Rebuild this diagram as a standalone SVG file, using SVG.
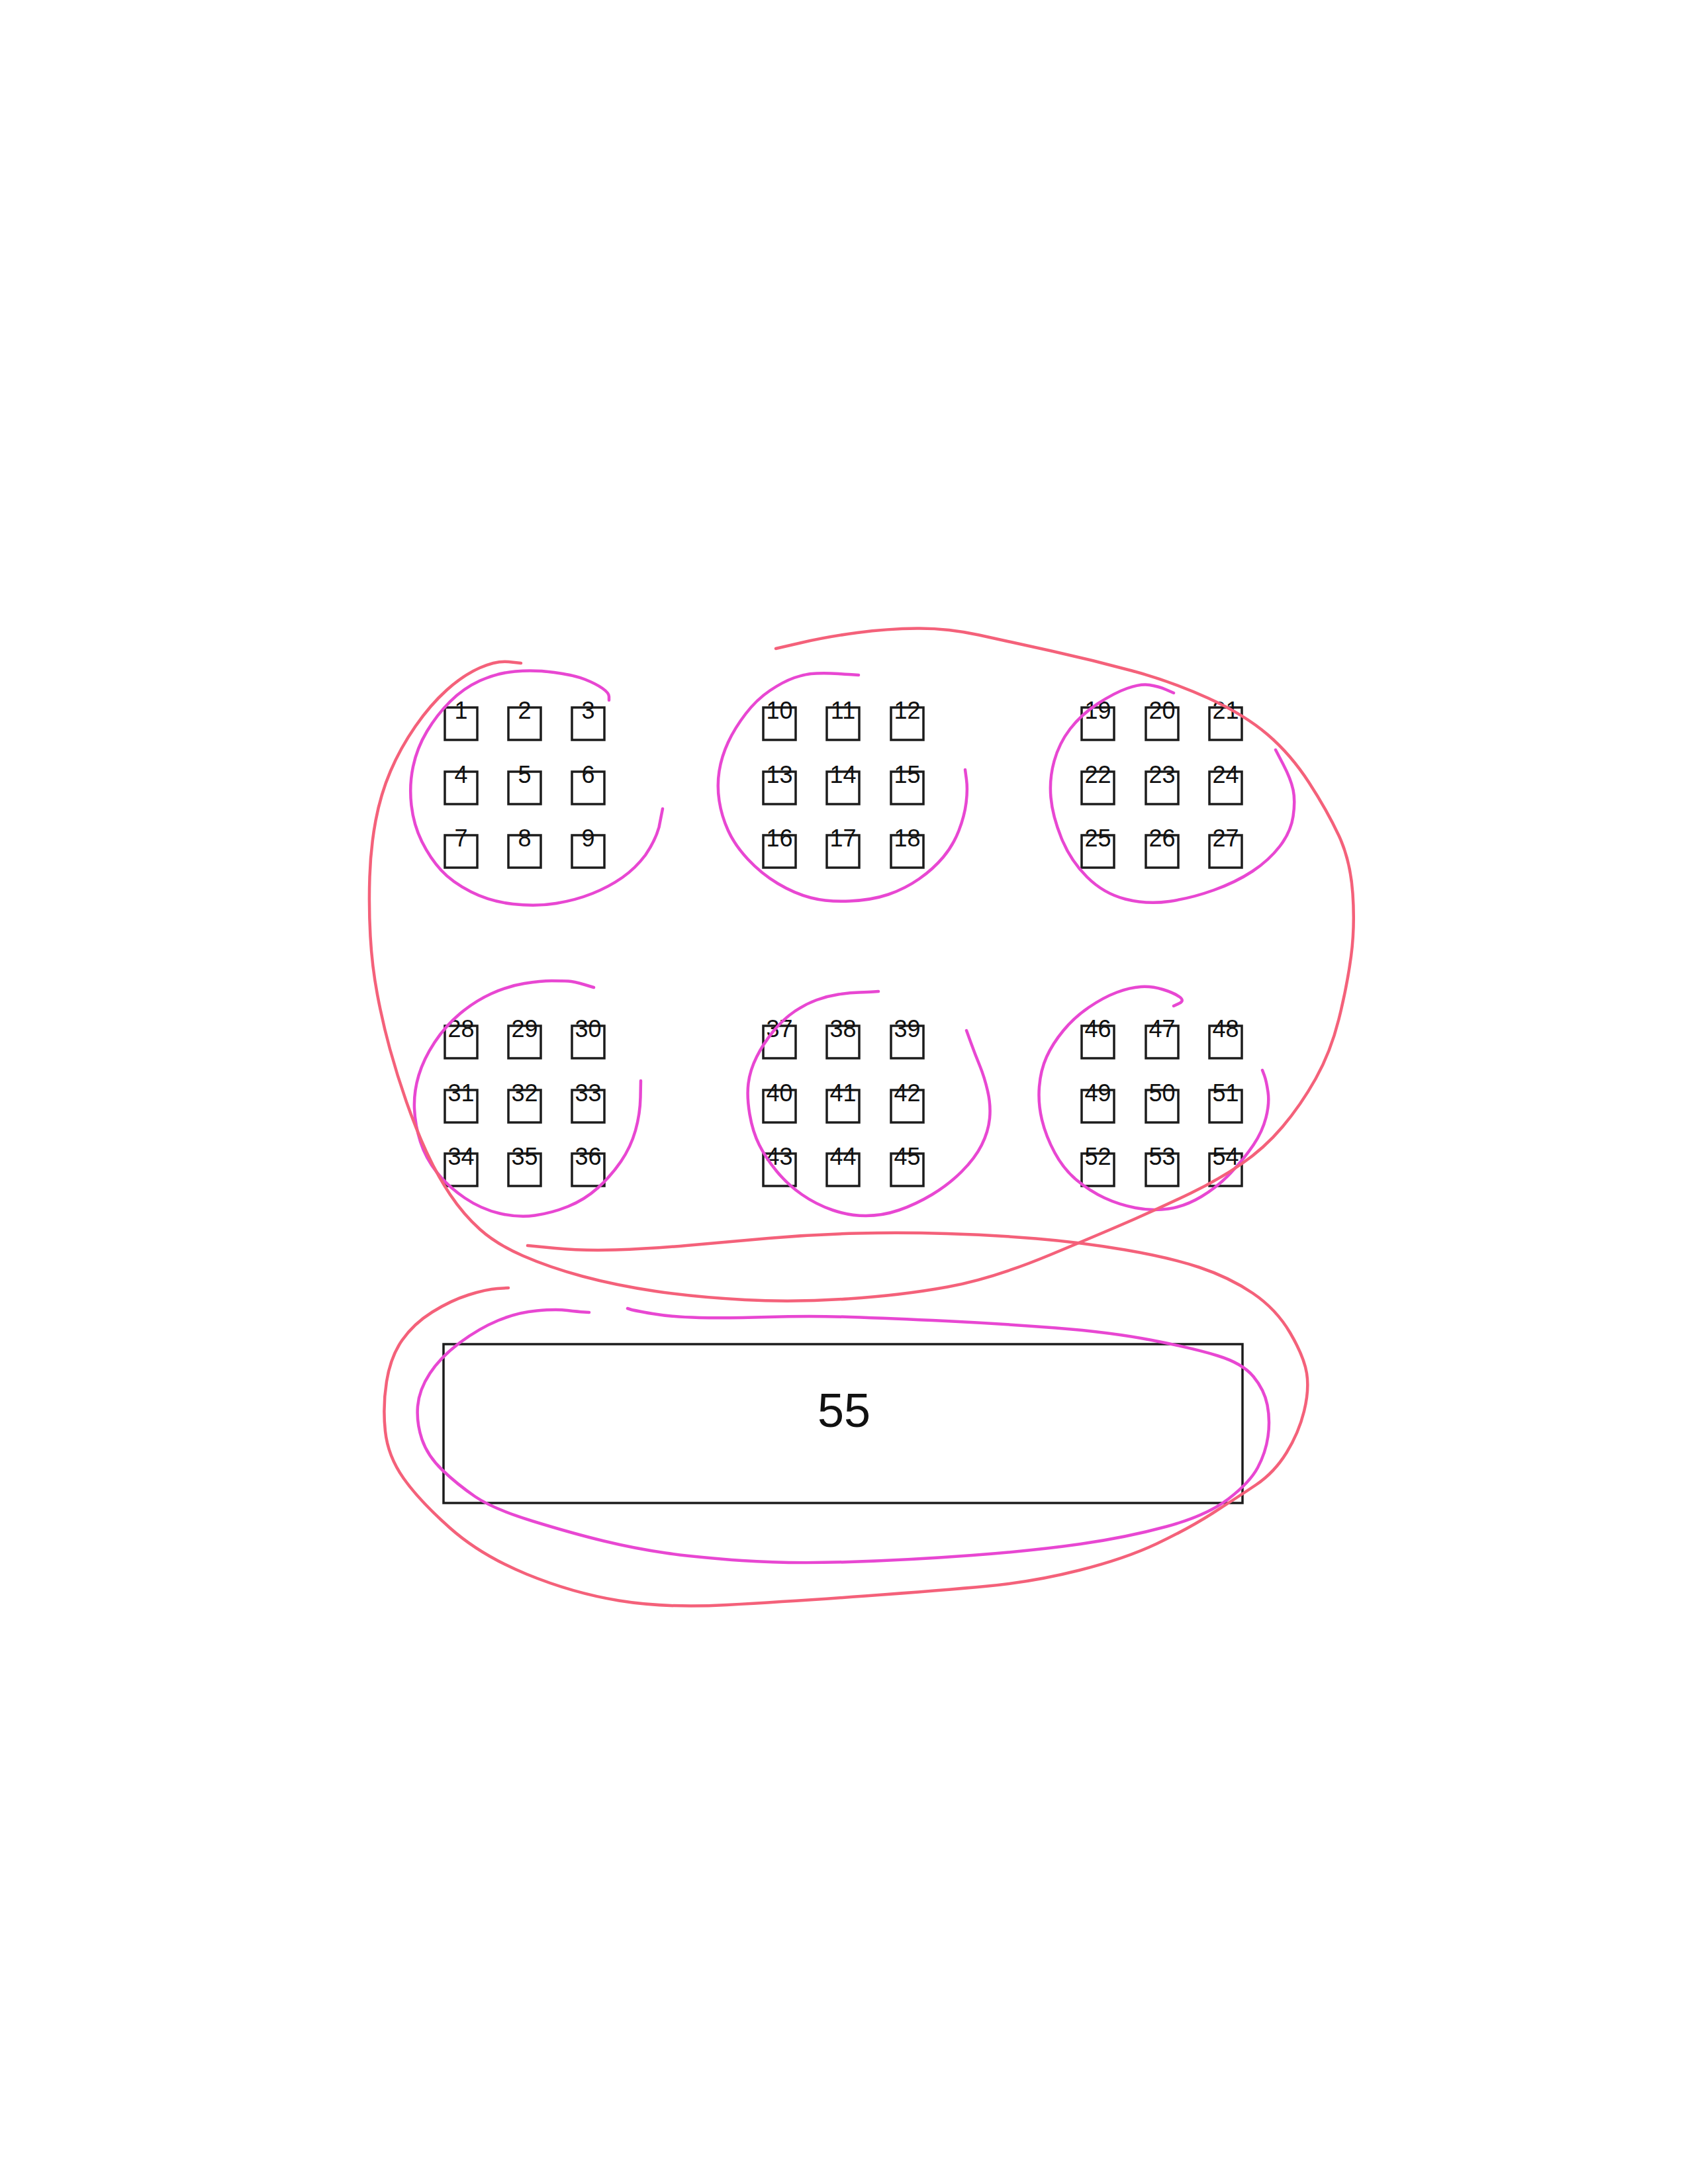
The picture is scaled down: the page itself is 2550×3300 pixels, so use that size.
<svg xmlns="http://www.w3.org/2000/svg" width="2550" height="3300" viewBox="0 0 2550 3300">
<style>
.bx{fill:none;stroke:#1c1c1c;stroke-width:3.5}
.lb{font-family:"Liberation Sans",Arial,sans-serif;font-size:36px;fill:#111;text-anchor:middle}
.big{font-family:"Liberation Sans",Arial,sans-serif;font-size:72px;fill:#111;text-anchor:middle}
.mg{fill:none;stroke:#e847d2;stroke-width:4.5;stroke-linecap:round;stroke-linejoin:round}
.rd{fill:none;stroke:#f4617a;stroke-width:4.5;stroke-linecap:round;stroke-linejoin:round}
</style>
<rect width="2550" height="3300" fill="#ffffff"/>
<g id="nodes">
<g id="n1"><rect class="bx" x="672" y="1069" width="49" height="49"/><text class="lb" x="696.5" y="1086">1</text></g>
<g id="n2"><rect class="bx" x="768" y="1069" width="49" height="49"/><text class="lb" x="792.5" y="1086">2</text></g>
<g id="n3"><rect class="bx" x="864" y="1069" width="49" height="49"/><text class="lb" x="888.5" y="1086">3</text></g>
<g id="n4"><rect class="bx" x="672" y="1166" width="49" height="49"/><text class="lb" x="696.5" y="1183">4</text></g>
<g id="n5"><rect class="bx" x="768" y="1166" width="49" height="49"/><text class="lb" x="792.5" y="1183">5</text></g>
<g id="n6"><rect class="bx" x="864" y="1166" width="49" height="49"/><text class="lb" x="888.5" y="1183">6</text></g>
<g id="n7"><rect class="bx" x="672" y="1262" width="49" height="49"/><text class="lb" x="696.5" y="1279">7</text></g>
<g id="n8"><rect class="bx" x="768" y="1262" width="49" height="49"/><text class="lb" x="792.5" y="1279">8</text></g>
<g id="n9"><rect class="bx" x="864" y="1262" width="49" height="49"/><text class="lb" x="888.5" y="1279">9</text></g>
<g id="n10"><rect class="bx" x="1153" y="1069" width="49" height="49"/><text class="lb" x="1177.5" y="1086">10</text></g>
<g id="n11"><rect class="bx" x="1249" y="1069" width="49" height="49"/><text class="lb" x="1273.5" y="1086">11</text></g>
<g id="n12"><rect class="bx" x="1346" y="1069" width="49" height="49"/><text class="lb" x="1370.5" y="1086">12</text></g>
<g id="n13"><rect class="bx" x="1153" y="1166" width="49" height="49"/><text class="lb" x="1177.5" y="1183">13</text></g>
<g id="n14"><rect class="bx" x="1249" y="1166" width="49" height="49"/><text class="lb" x="1273.5" y="1183">14</text></g>
<g id="n15"><rect class="bx" x="1346" y="1166" width="49" height="49"/><text class="lb" x="1370.5" y="1183">15</text></g>
<g id="n16"><rect class="bx" x="1153" y="1262" width="49" height="49"/><text class="lb" x="1177.5" y="1279">16</text></g>
<g id="n17"><rect class="bx" x="1249" y="1262" width="49" height="49"/><text class="lb" x="1273.5" y="1279">17</text></g>
<g id="n18"><rect class="bx" x="1346" y="1262" width="49" height="49"/><text class="lb" x="1370.5" y="1279">18</text></g>
<g id="n19"><rect class="bx" x="1634" y="1069" width="49" height="49"/><text class="lb" x="1658.5" y="1086">19</text></g>
<g id="n20"><rect class="bx" x="1731" y="1069" width="49" height="49"/><text class="lb" x="1755.5" y="1086">20</text></g>
<g id="n21"><rect class="bx" x="1827" y="1069" width="49" height="49"/><text class="lb" x="1851.5" y="1086">21</text></g>
<g id="n22"><rect class="bx" x="1634" y="1166" width="49" height="49"/><text class="lb" x="1658.5" y="1183">22</text></g>
<g id="n23"><rect class="bx" x="1731" y="1166" width="49" height="49"/><text class="lb" x="1755.5" y="1183">23</text></g>
<g id="n24"><rect class="bx" x="1827" y="1166" width="49" height="49"/><text class="lb" x="1851.5" y="1183">24</text></g>
<g id="n25"><rect class="bx" x="1634" y="1262" width="49" height="49"/><text class="lb" x="1658.5" y="1279">25</text></g>
<g id="n26"><rect class="bx" x="1731" y="1262" width="49" height="49"/><text class="lb" x="1755.5" y="1279">26</text></g>
<g id="n27"><rect class="bx" x="1827" y="1262" width="49" height="49"/><text class="lb" x="1851.5" y="1279">27</text></g>
<g id="n28"><rect class="bx" x="672" y="1550" width="49" height="49"/><text class="lb" x="696.5" y="1567">28</text></g>
<g id="n29"><rect class="bx" x="768" y="1550" width="49" height="49"/><text class="lb" x="792.5" y="1567">29</text></g>
<g id="n30"><rect class="bx" x="864" y="1550" width="49" height="49"/><text class="lb" x="888.5" y="1567">30</text></g>
<g id="n31"><rect class="bx" x="672" y="1647" width="49" height="49"/><text class="lb" x="696.5" y="1664">31</text></g>
<g id="n32"><rect class="bx" x="768" y="1647" width="49" height="49"/><text class="lb" x="792.5" y="1664">32</text></g>
<g id="n33"><rect class="bx" x="864" y="1647" width="49" height="49"/><text class="lb" x="888.5" y="1664">33</text></g>
<g id="n34"><rect class="bx" x="672" y="1743" width="49" height="49"/><text class="lb" x="696.5" y="1760">34</text></g>
<g id="n35"><rect class="bx" x="768" y="1743" width="49" height="49"/><text class="lb" x="792.5" y="1760">35</text></g>
<g id="n36"><rect class="bx" x="864" y="1743" width="49" height="49"/><text class="lb" x="888.5" y="1760">36</text></g>
<g id="n37"><rect class="bx" x="1153" y="1550" width="49" height="49"/><text class="lb" x="1177.5" y="1567">37</text></g>
<g id="n38"><rect class="bx" x="1249" y="1550" width="49" height="49"/><text class="lb" x="1273.5" y="1567">38</text></g>
<g id="n39"><rect class="bx" x="1346" y="1550" width="49" height="49"/><text class="lb" x="1370.5" y="1567">39</text></g>
<g id="n40"><rect class="bx" x="1153" y="1647" width="49" height="49"/><text class="lb" x="1177.5" y="1664">40</text></g>
<g id="n41"><rect class="bx" x="1249" y="1647" width="49" height="49"/><text class="lb" x="1273.5" y="1664">41</text></g>
<g id="n42"><rect class="bx" x="1346" y="1647" width="49" height="49"/><text class="lb" x="1370.5" y="1664">42</text></g>
<g id="n43"><rect class="bx" x="1153" y="1743" width="49" height="49"/><text class="lb" x="1177.5" y="1760">43</text></g>
<g id="n44"><rect class="bx" x="1249" y="1743" width="49" height="49"/><text class="lb" x="1273.5" y="1760">44</text></g>
<g id="n45"><rect class="bx" x="1346" y="1743" width="49" height="49"/><text class="lb" x="1370.5" y="1760">45</text></g>
<g id="n46"><rect class="bx" x="1634" y="1550" width="49" height="49"/><text class="lb" x="1658.5" y="1567">46</text></g>
<g id="n47"><rect class="bx" x="1731" y="1550" width="49" height="49"/><text class="lb" x="1755.5" y="1567">47</text></g>
<g id="n48"><rect class="bx" x="1827" y="1550" width="49" height="49"/><text class="lb" x="1851.5" y="1567">48</text></g>
<g id="n49"><rect class="bx" x="1634" y="1647" width="49" height="49"/><text class="lb" x="1658.5" y="1664">49</text></g>
<g id="n50"><rect class="bx" x="1731" y="1647" width="49" height="49"/><text class="lb" x="1755.5" y="1664">50</text></g>
<g id="n51"><rect class="bx" x="1827" y="1647" width="49" height="49"/><text class="lb" x="1851.5" y="1664">51</text></g>
<g id="n52"><rect class="bx" x="1634" y="1743" width="49" height="49"/><text class="lb" x="1658.5" y="1760">52</text></g>
<g id="n53"><rect class="bx" x="1731" y="1743" width="49" height="49"/><text class="lb" x="1755.5" y="1760">53</text></g>
<g id="n54"><rect class="bx" x="1827" y="1743" width="49" height="49"/><text class="lb" x="1851.5" y="1760">54</text></g>
<g id="n55"><rect class="bx" x="670" y="2031" width="1207" height="240" stroke-width="4"/><text class="big" x="1275" y="2156">55</text></g>
</g>
<g id="connectors">
<path class="mg" d="M920,1058 L920,1052.5 Q920,1047 910,1040 Q900,1033 883.5,1026.5 Q867,1020 837,1016 Q807,1012 778.5,1014.5 Q750,1017 725,1028.5 Q700,1040 680,1060 Q660,1080 645,1105 Q630,1130 624,1158.5 Q618,1187 621.5,1217 Q625,1247 637.5,1272 Q650,1297 666.5,1315 Q683,1333 711.5,1347.5 Q740,1362 775,1366 Q810,1370 840,1365 Q870,1360 895,1350 Q920,1340 940,1326 Q960,1312 975,1292 Q990,1270 995.5,1250 L1001,1222"/>
<path class="mg" d="M1297,1020 L1290,1019.5 Q1283,1019 1266.5,1018 Q1250,1017 1233.5,1017.5 Q1217,1018 1200,1024 Q1183,1030 1163,1043.5 Q1143,1057 1126.5,1078.5 Q1110,1100 1100,1121.5 Q1090,1143 1086.5,1165 Q1083,1187 1086.5,1210 Q1090,1233 1100,1255 Q1110,1277 1130,1298.5 Q1150,1320 1175,1335 Q1200,1350 1225,1356.5 Q1250,1363 1283.5,1361.5 Q1317,1360 1342,1351.5 Q1367,1343 1388.5,1328 Q1410,1313 1425,1295 Q1440,1277 1448.5,1255 Q1457,1233 1459.5,1213 Q1462,1193 1460,1178 L1458,1163"/>
<path class="mg" d="M1773,1047 L1761.5,1042 Q1750,1037 1736.5,1035 Q1723,1033 1703,1040 Q1683,1047 1658,1063.5 Q1633,1080 1616.5,1101.5 Q1600,1123 1592.5,1150 Q1585,1177 1587.5,1205 Q1590,1233 1603.5,1266.5 Q1617,1300 1642,1325 Q1667,1350 1700,1358.5 Q1733,1367 1766.5,1362 Q1800,1357 1833.5,1345 Q1867,1333 1892,1316.5 Q1917,1300 1933.5,1278.5 Q1950,1257 1953.5,1233.5 Q1957,1210 1953.5,1193.5 Q1950,1177 1938.5,1155 L1927,1133"/>
<path class="mg" d="M897,1492 L882,1487.5 Q867,1483 858.5,1482.5 Q850,1482 833.5,1482 Q817,1482 792,1486 Q767,1490 742,1501.5 Q717,1513 695,1531.5 Q673,1550 656.5,1575 Q640,1600 632.5,1625 Q625,1650 626,1675 Q627,1700 635,1725 Q643,1750 660,1771.5 Q677,1793 702,1810 Q727,1827 755,1833.5 Q783,1840 808,1836.5 Q833,1833 858,1823 Q883,1813 903,1795 Q923,1777 938,1755 Q953,1733 960,1708 Q967,1683 967.5,1658 L968,1633"/>
<path class="mg" d="M1327,1498 L1320,1498.5 Q1313,1499 1298,1499.5 Q1283,1500 1266.5,1502.5 Q1250,1505 1233.5,1511 Q1217,1517 1200,1528.5 Q1183,1540 1168,1558.5 Q1153,1577 1143,1597 Q1133,1617 1130.5,1637 Q1128,1657 1132.5,1683.5 Q1137,1710 1147,1730 Q1157,1750 1173.5,1770 Q1190,1790 1211.5,1805 Q1233,1820 1258,1828.5 Q1283,1837 1308,1837 Q1333,1837 1358,1828.5 Q1383,1820 1408,1805 Q1433,1790 1453,1770 Q1473,1750 1483,1730 Q1493,1710 1495,1690 Q1497,1670 1492,1648.5 Q1487,1627 1480,1610 Q1473,1593 1466.5,1575 L1460,1557"/>
<path class="mg" d="M1773,1520 L1781.5,1516 Q1790,1512 1781.5,1506 Q1773,1500 1756.5,1495 Q1740,1490 1723.5,1491 Q1707,1492 1687,1499.5 Q1667,1507 1645,1522 Q1623,1537 1606.5,1557 Q1590,1577 1581,1597 Q1572,1617 1570,1642 Q1568,1667 1574,1692 Q1580,1717 1593.5,1742 Q1607,1767 1627,1783.5 Q1647,1800 1668.5,1810 Q1690,1820 1715,1825 Q1740,1830 1765,1826.5 Q1790,1823 1815,1808 Q1840,1793 1860,1771.5 Q1880,1750 1893.5,1730 Q1907,1710 1912.5,1688.5 Q1918,1667 1915.5,1650 Q1913,1633 1910,1625 L1907,1617"/>
<path class="mg" d="M890,1983 L882,1982.5 Q874,1982 857,1980 Q840,1978 811,1980.5 Q782,1983 753,1995 Q724,2007 695,2028.5 Q666,2050 649.5,2075 Q633,2100 631,2125 Q629,2150 637.5,2175 Q646,2200 668.5,2221.5 Q691,2243 718,2261.5 Q745,2280 805,2298.5 Q865,2317 912.5,2328.5 Q960,2340 1005.5,2346.5 Q1051,2353 1121,2358 Q1191,2363 1283.5,2360 Q1376,2357 1469,2350 Q1562,2343 1632,2333 Q1702,2323 1762.5,2306.5 Q1823,2290 1855.5,2265 Q1888,2240 1900,2217.5 Q1912,2195 1915.5,2170.5 Q1919,2146 1914.5,2123 Q1910,2100 1893.5,2080 Q1877,2060 1839.5,2048.5 Q1802,2037 1740,2025 Q1678,2013 1595,2006.5 Q1512,2000 1429,1996 Q1346,1992 1284,1990 Q1222,1988 1160,1990 Q1098,1992 1056.5,1991 Q1015,1990 986,1985 Q957,1980 952.5,1978.5 L948,1977"/>
<path class="rd" d="M1172,980 L1211,971 Q1250,962 1295,956 Q1340,950 1385.5,949.5 Q1431,949 1479,959.5 Q1527,970 1588,983.5 Q1649,997 1710,1013.5 Q1771,1030 1825.5,1055 Q1880,1080 1915,1110 Q1950,1140 1977.5,1182.5 Q2005,1225 2022.5,1262.5 Q2040,1300 2043.5,1350 Q2047,1400 2041,1445 Q2035,1490 2022.5,1540 Q2010,1590 1987.5,1630 Q1965,1670 1937.5,1702.5 Q1910,1735 1875,1759 Q1840,1783 1798.5,1803 Q1757,1823 1715,1841.5 Q1673,1860 1586.5,1896 Q1500,1932 1431.5,1944.5 Q1363,1957 1281.5,1962.5 Q1200,1968 1125,1964 Q1050,1960 990,1951 Q930,1942 880,1928.5 Q830,1915 790,1897.5 Q750,1880 725,1857.5 Q700,1835 680,1805 Q660,1775 644,1740 Q628,1705 614,1665 Q600,1625 589,1585 Q578,1545 570,1502.5 Q562,1460 559.5,1415 Q557,1370 558.5,1325 Q560,1280 567.5,1240 Q575,1200 590,1165 Q605,1130 627.5,1097.5 Q650,1065 675,1042.5 Q700,1020 725,1009 Q750,998 768.5,1000 L787,1002"/>
<path class="rd" d="M797,1882 L838.5,1886 Q880,1890 930,1888.5 Q980,1887 1037,1882 Q1094,1877 1161,1871 Q1228,1865 1295.5,1863.5 Q1363,1862 1430.5,1864 Q1498,1866 1565,1871.5 Q1632,1877 1699.5,1888.5 Q1767,1900 1812,1915 Q1857,1930 1892.5,1954 Q1928,1978 1949,2014 Q1970,2050 1974,2075 Q1978,2100 1970,2132.5 Q1962,2165 1943.5,2195 Q1925,2225 1897.5,2243.5 Q1870,2262 1832.5,2286 Q1795,2310 1747.5,2332.5 Q1700,2355 1631,2372.5 Q1562,2390 1492.5,2396.5 Q1423,2403 1307,2411.5 Q1191,2420 1098,2425 Q1005,2430 935,2418.5 Q865,2407 795.5,2378.5 Q726,2350 679.5,2308.5 Q633,2267 609.5,2233.5 Q586,2200 582,2162.5 Q578,2125 584,2087.5 Q590,2050 607.5,2025 Q625,2000 653,1982.5 Q681,1965 708,1956.5 Q735,1948 751.5,1947 L768,1946"/>
</g>
</svg>
